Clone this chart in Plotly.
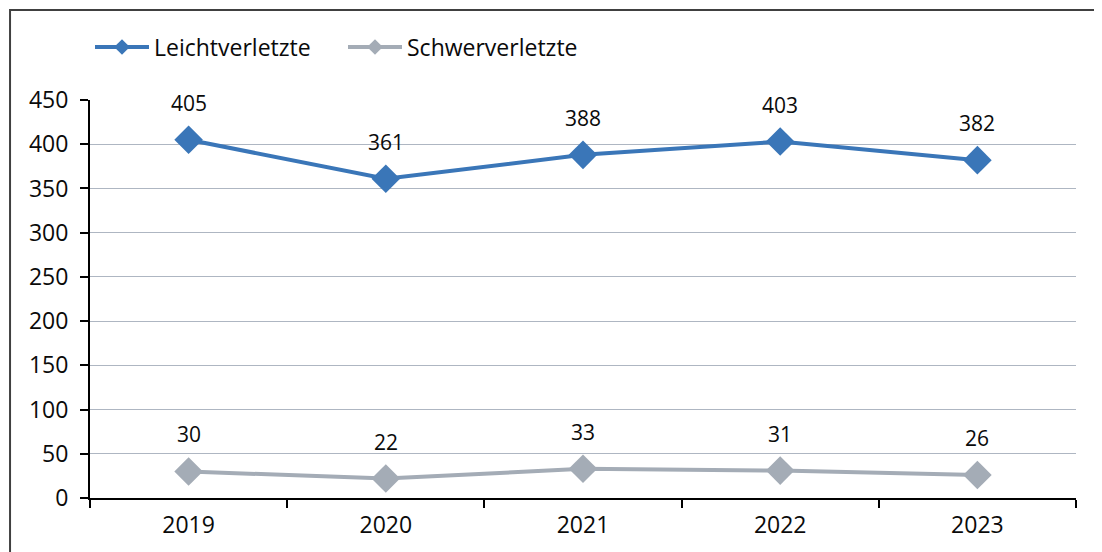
import plotly.graph_objects as go

years = ["2019", "2020", "2021", "2022", "2023"]
leicht = [405, 361, 388, 403, 382]
schwer = [30, 22, 33, 31, 26]
y_ticks = [0, 50, 100, 150, 200, 250, 300, 350, 400, 450]

BLUE = "#3A76B8"
GRAY = "#A4ACB6"
FONT = "Open Sans"
TXT = "#0a0a0a"

fig = go.Figure()
for name, ys, col in (("Leichtverletzte", leicht, BLUE), ("Schwerverletzte", schwer, GRAY)):
    fig.add_trace(go.Scatter(x=years, y=ys, name=name, mode="lines+markers", showlegend=False,
                             line=dict(color=col, width=4),
                             marker=dict(symbol="diamond", size=22, color=col)))
for name, col in (("Leichtverletzte", BLUE), ("Schwerverletzte", GRAY)):
    fig.add_trace(go.Scatter(x=[None], y=[None], name=name, mode="lines+markers",
                             line=dict(color=col, width=4),
                             marker=dict(symbol="diamond", size=12, color=col)))

annots = []
for ys in (leicht, schwer):
    for i, yv in enumerate(ys):
        annots.append(dict(x=i, y=yv, xref="x", yref="y", text=str(yv), showarrow=False,
                           yshift=37, font=dict(family=FONT, size=21, color=TXT)))

fig.update_layout(
    width=1102, height=552,
    margin=dict(l=82, r=34, t=92, b=62, autoexpand=False),
    plot_bgcolor="white", paper_bgcolor="white",
    font=dict(family=FONT, size=20, color=TXT),
    showlegend=True,
    annotations=annots,
    shapes=[dict(type="rect", xref="paper", yref="paper", x0=-0.0811, y0=-0.4, x1=1.2, y1=1.2261,
                 line=dict(color="#404040", width=2), fillcolor="rgba(0,0,0,0)", layer="below")],
    legend=dict(orientation="h", x=0.0, y=1.133, xanchor="left", yanchor="middle",
                font=dict(family=FONT, size=23, color=TXT), itemwidth=54,
                entrywidth=184, entrywidthmode="pixels", bgcolor="rgba(0,0,0,0)"),
    xaxis=dict(type="category", range=[-0.5, 4.5], tickson="boundaries", ticks="outside",
               ticklen=8, tickwidth=2, tickcolor="black", showline=True, linecolor="black",
               linewidth=2, showgrid=False, tickfont=dict(size=23, color=TXT),
               ticklabelstandoff=5),
    yaxis=dict(range=[0, 450], tickvals=y_ticks, ticks="outside", ticklen=8, tickwidth=2,
               tickcolor="black", showline=True, linecolor="black", linewidth=2,
               showgrid=True, gridcolor="#AEB6C2", gridwidth=1, zeroline=False,
               tickfont=dict(size=23, color=TXT), ticklabelstandoff=7),
)

fig.write_html("out.html")
